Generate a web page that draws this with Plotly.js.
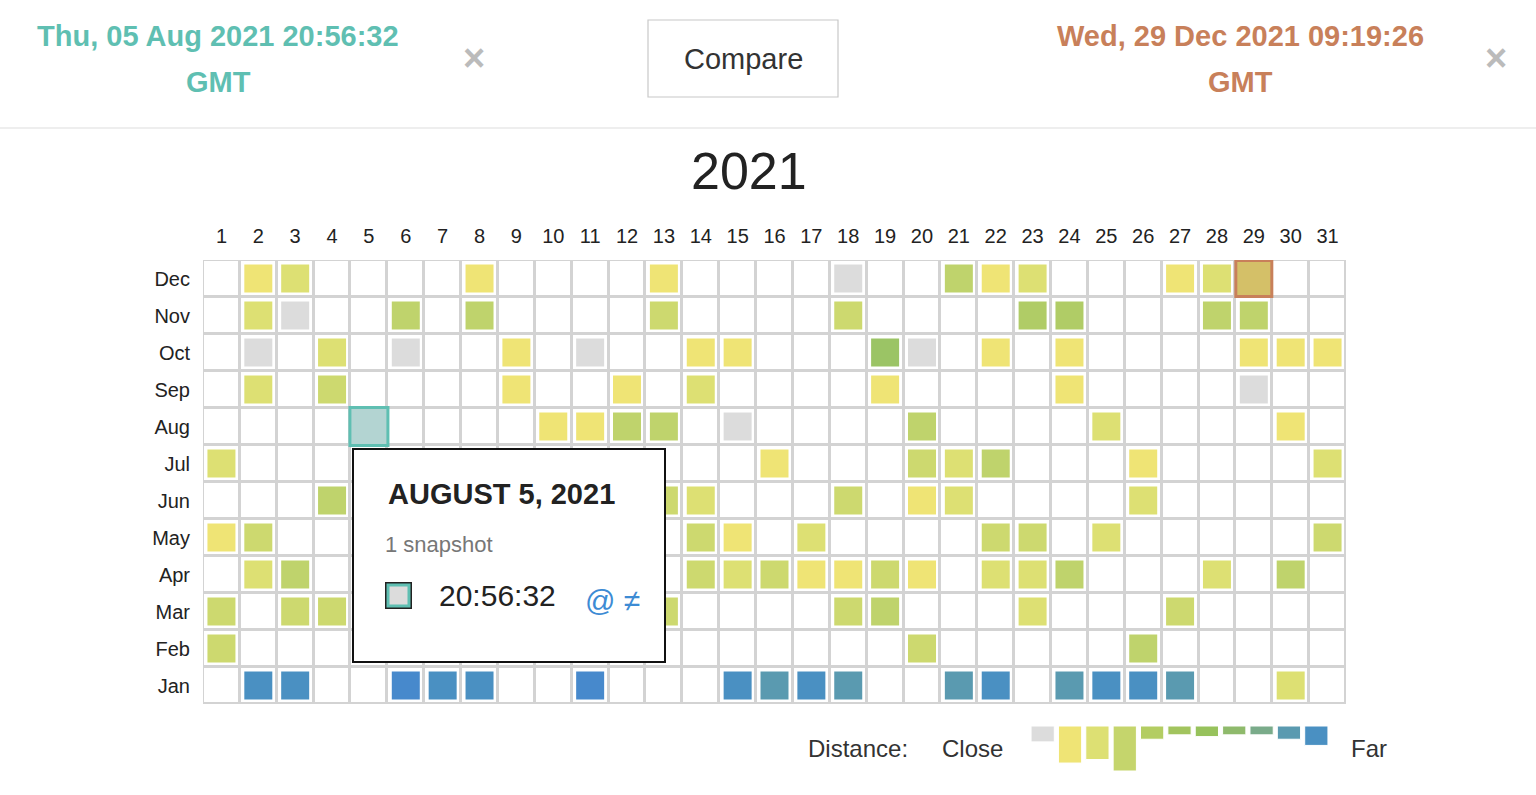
<!DOCTYPE html>
<html><head><meta charset="utf-8">
<script src="https://cdn.plot.ly/plotly-3.0.1.min.js"></script>
<style>body{margin:0;background:#fff}#c{width:1536px;height:795px}</style>
</head><body><div id="c"></div>
<script>
const n = null;
const months = ["Jan","Feb","Mar","Apr","May","Jun","Jul","Aug","Sep","Oct","Nov","Dec"];
const days = Array.from({length:31},(_,i)=>i+1);
const jan = [n,8,8,n,n,9,8,8,n,n,9,n,n,n,8,7,8,7,n,n,7,8,n,7,8,8,7,n,n,2,n];
const feb = [3,n,n,n,n,n,n,n,n,n,n,n,n,n,n,n,n,n,n,3,n,n,n,n,n,4,n,n,n,n,n];
const mar = [3,n,3,3,n,n,n,n,n,n,n,n,3,n,n,n,n,3,4,n,n,n,2,n,n,n,3,n,n,n,n];
const apr = [n,2,4,n,n,n,n,n,n,n,n,n,n,3,2,3,1,1,3,1,n,2,2,4,n,n,n,2,n,4,n];
const may = [1,3,n,n,n,n,n,n,n,n,n,n,n,3,1,n,2,n,n,n,n,3,3,n,2,n,n,n,n,n,3];
const jun = [n,n,n,4,n,n,n,n,n,n,n,n,3,2,n,n,n,3,n,1,2,n,n,n,n,2,n,n,n,n,n];
const jul = [2,n,n,n,n,n,n,n,n,n,n,n,n,n,n,1,n,n,n,3,2,4,n,n,n,1,n,n,n,n,2];
const aug = [n,n,n,n,n,n,n,n,n,1,1,4,4,n,0,n,n,n,n,4,n,n,n,n,2,n,n,n,n,1,n];
const sep = [n,2,n,3,n,n,n,n,1,n,n,1,n,2,n,n,n,n,1,n,n,n,n,1,n,n,n,n,0,n,n];
const oct = [n,0,n,2,n,0,n,n,1,n,0,n,n,1,1,n,n,n,6,0,n,1,n,1,n,n,n,n,1,1,1];
const nov = [n,2,0,n,n,4,n,4,n,n,n,n,3,n,n,n,n,3,n,n,n,n,5,5,n,n,n,4,4,n,n];
const dec = [n,1,2,n,n,n,n,1,n,n,n,n,1,n,n,n,n,0,n,n,4,1,2,n,n,n,1,2,n,n,n];
const levelColors = ["#dcdcdc","#efe475","#dde073","#cdd96f","#bfd36c","#b0cc66","#9bc465","#5a9ab0","#4a90c2","#4789cc"];
const selStart = {month:8, day:5, fill:"#b3d4d2", line:"#5fbfb2"};
const selEnd = {month:12, day:29, fill:"#d4c068", line:"#c8805a"};
const legendHeights = [18,42,38,51,15,10,12,10,10,15,22];
const legendColors = ["#dcdcdc","#efe475","#dde073","#c5d56c","#b3cd62","#a2c45e","#97c25c","#8fba6c","#7aab8a","#5a9ab0","#4a90c2"];

const rows = [jan,feb,mar,apr,may,jun,jul,aug,sep,oct,nov,dec];
const cx=[],cy=[],cc=[];
rows.forEach((r,mi)=>r.forEach((v,di)=>{ if(v!==null){cx.push(di+1);cy.push(mi+1);cc.push(levelColors[v]);} }));
const zAll = months.map(()=>days.map(()=>1));
const traces = [
 {type:"heatmap",x:days,y:months.map((_,i)=>i+1),z:zAll,colorscale:[[0,"#d3d3d3"],[1,"#d3d3d3"]],showscale:false,hoverinfo:"skip"},
 {type:"heatmap",x:days,y:months.map((_,i)=>i+1),z:zAll,colorscale:[[0,"#ffffff"],[1,"#ffffff"]],showscale:false,xgap:3,ygap:3,hoverinfo:"skip"},
 {type:"scatter",mode:"markers",x:cx,y:cy,marker:{symbol:"square",size:28,color:cc,line:{width:0}},hoverinfo:"skip"},
 {type:"scatter",mode:"markers",x:[selStart.day],y:[selStart.month],marker:{symbol:"square",size:38,color:selStart.fill,line:{width:3,color:selStart.line}},hoverinfo:"skip"},
 {type:"scatter",mode:"markers",x:[selEnd.day],y:[selEnd.month],marker:{symbol:"square",size:36,color:selEnd.fill,line:{width:3,color:selEnd.line}},hoverinfo:"skip"},
 {type:"bar",x:legendHeights.map((_,i)=>i),y:legendHeights,marker:{color:legendColors,line:{width:1,color:"#fff"}},width:0.85,xaxis:"x2",yaxis:"y2",hoverinfo:"skip"}
];
const P=(px)=>(px-203)/1143, Q=(py)=>(775-py)/515;
const F="Liberation Sans, Arial, sans-serif";
const ann=(x,y,text,size,color,extra)=>Object.assign({xref:"paper",yref:"paper",x:P(x),y:Q(y),xanchor:"center",yanchor:"middle",text:text,showarrow:false,font:{family:F,size:size,color:color}},extra||{});
const layout = {
 width:1536,height:795,margin:{l:203,r:190,t:260,b:20},
 paper_bgcolor:"#fff",plot_bgcolor:"#fff",showlegend:false,
 xaxis:{range:[0.5,31.5],side:"top",tickvals:days,ticktext:days.map(String),showgrid:false,zeroline:false,ticks:"",ticklabelstandoff:12,tickfont:{family:F,size:20,color:"#222"},fixedrange:true,anchor:"y"},
 yaxis:{range:[0.5,12.5],domain:[Q(704),1],tickvals:months.map((_,i)=>i+1),ticktext:months,showgrid:false,zeroline:false,ticks:"",ticklabelstandoff:12,tickfont:{family:F,size:20,color:"#222"},fixedrange:true},
 xaxis2:{domain:[P(1029),P(1330)],range:[-0.5,10.5],visible:false,anchor:"y2"},
 yaxis2:{domain:[Q(771),Q(726)],range:[51,0],visible:false,anchor:"x2"},
 shapes:[
  {type:"line",xref:"paper",yref:"paper",x0:P(0),x1:P(1536),y0:Q(128),y1:Q(128),line:{color:"#e8e8e8",width:1.5}},
  {type:"rect",xref:"paper",yref:"paper",x0:P(648),x1:P(838),y0:Q(97),y1:Q(20),line:{color:"#c8c8c8",width:1.2},fillcolor:"#fff"}
 ],
 annotations:[
  ann(218,36,"<b>Thu, 05 Aug 2021 20:56:32</b>",29,"#5fbfb2"),
  ann(218,82,"<b>GMT</b>",29,"#5fbfb2"),
  ann(1240,36,"<b>Wed, 29 Dec 2021 09:19:26</b>",29,"#c8805a"),
  ann(1240,82,"<b>GMT</b>",29,"#c8805a"),
  ann(474,58,"<b>×</b>",38,"#bbbbbb"),
  ann(1496,58,"<b>×</b>",38,"#bbbbbb"),
  ann(743,59,"Compare",29,"#333"),
  ann(749,171,"2021",52,"#222"),
  ann(858,748,"Distance:",24,"#333"),
  ann(972,748,"Close",24,"#333"),
  ann(1369,748,"Far",24,"#333"),
  ann(509,555,"",10,"#000",{width:310,height:211,bordercolor:"#111",borderwidth:2,bgcolor:"#fff",borderpad:0}),
  ann(501,494,"<b>AUGUST 5, 2021</b>",29,"#222"),
  ann(439,544,"1 snapshot",22,"#777"),
  ann(398,595,"",10,"#000",{width:24,height:24,bordercolor:"#222",borderwidth:1.5,bgcolor:"#5fbfb2",borderpad:0}),
  ann(398,595,"",10,"#000",{width:17,height:17,bgcolor:"#dcdcdc",borderpad:0}),
  ann(497,595,"20:56:32",30,"#222"),
  ann(612,600,"@ ≠",30,"#3d8bd4")
 ]
};
Plotly.newPlot("c",traces,layout,{displayModeBar:false,staticPlot:true});
</script></body></html>
